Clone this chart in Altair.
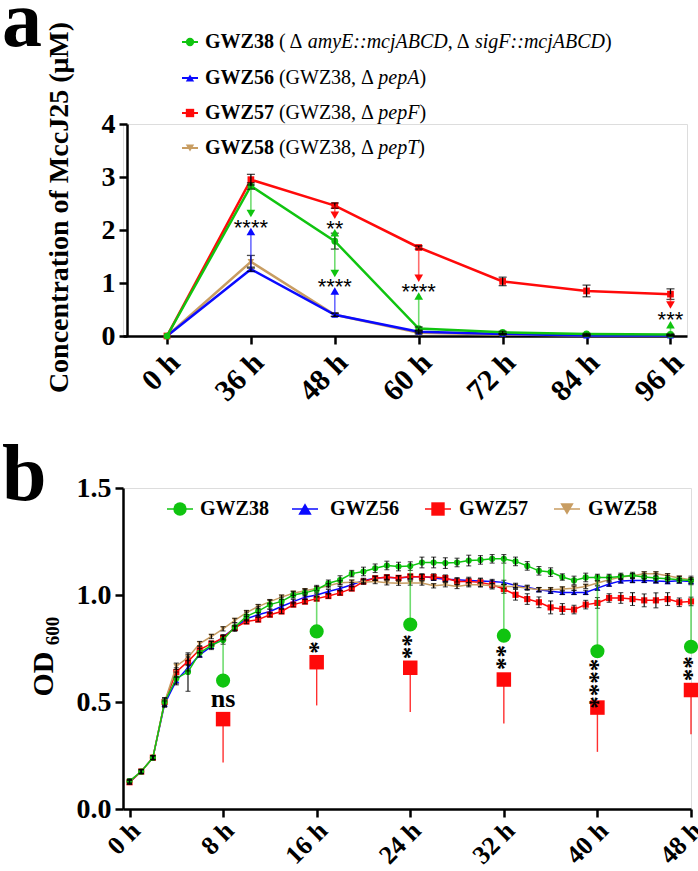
import json
import altair as alt
import pandas as pd

# ---------------------------------------------------------------- data
strains = ["GWZ38", "GWZ56", "GWZ57", "GWZ58"]

# (a) MccJ25 titre (uM) over the fermentation
conc_times = ["0 h", "36 h", "48 h", "60 h", "72 h", "84 h", "96 h"]
conc_gwz38 = [0.0, 2.83, 1.79, 0.14, 0.07, 0.04, 0.03]
conc_gwz56 = [0.0, 1.26, 0.40, 0.08, 0.04, 0.01, 0.01]
conc_gwz57 = [0.0, 2.95, 2.46, 1.67, 1.03, 0.85, 0.79]
conc_gwz58 = [0.0, 1.40, 0.40, 0.06, 0.03, 0.01, 0.01]
conc_sd_gwz38 = [0.0, 0.06, 0.15, 0.03, 0.02, 0.01, 0.01]
conc_sd_gwz56 = [0.0, 0.04, 0.03, 0.02, 0.01, 0.01, 0.01]
conc_sd_gwz57 = [0.0, 0.10, 0.05, 0.03, 0.08, 0.11, 0.10]
conc_sd_gwz58 = [0.0, 0.12, 0.03, 0.02, 0.01, 0.01, 0.01]

# significance arrows in (a): arrow leaves the strain's mean and ends at the head
arrow_time = ["36 h", "36 h", "48 h", "48 h", "48 h", "48 h", "60 h", "60 h", "96 h", "96 h"]
arrow_strain = ["GWZ38", "GWZ56", "GWZ57", "GWZ38", "GWZ38", "GWZ56", "GWZ57", "GWZ38", "GWZ57", "GWZ38"]
arrow_head = [2.31, 1.97, 2.28, 1.95, 1.18, 0.85, 1.09, 0.755, 0.585, 0.21]
star_time = ["36 h", "48 h", "48 h", "60 h", "96 h"]
star_text = ["****", "**", "****", "****", "***"]
star_value = [2.14, 2.11, 1.015, 0.92, 0.39]

# (b) growth curves, OD600 sampled every hour
od_hours = list(range(0, 49))
od_gwz38 = [0.13, 0.175, 0.24, 0.50, 0.61, 0.64, 0.73, 0.765, 0.79, 0.85,
            0.90, 0.925, 0.955, 0.97, 1.00, 1.01, 1.025, 1.055, 1.07, 1.10,
            1.11, 1.125, 1.138, 1.133, 1.135, 1.152, 1.152, 1.149, 1.152, 1.161,
            1.164, 1.169, 1.169, 1.157, 1.136, 1.113, 1.107, 1.084, 1.068, 1.082,
            1.082, 1.082, 1.087, 1.091, 1.084, 1.079, 1.076, 1.071, 1.068]
od_gwz56 = [0.125, 0.175, 0.24, 0.49, 0.60, 0.66, 0.72, 0.76, 0.805, 0.845,
            0.889, 0.908, 0.923, 0.946, 0.969, 0.99, 1.00, 1.016, 1.03, 1.048,
            1.068, 1.078, 1.083, 1.080, 1.084, 1.087, 1.079, 1.074, 1.071, 1.068,
            1.066, 1.063, 1.059, 1.045, 1.036, 1.025, 1.017, 1.012, 1.012, 1.012,
            1.032, 1.051, 1.066, 1.068, 1.068, 1.066, 1.063, 1.066, 1.063]
od_gwz57 = [0.125, 0.175, 0.24, 0.50, 0.64, 0.69, 0.745, 0.773, 0.80, 0.846,
            0.876, 0.885, 0.908, 0.923, 0.955, 0.969, 0.983, 0.995, 1.01, 1.03,
            1.063, 1.078, 1.083, 1.080, 1.087, 1.084, 1.084, 1.079, 1.063, 1.063,
            1.059, 1.048, 1.028, 1.001, 0.981, 0.966, 0.942, 0.935, 0.932, 0.955,
            0.963, 0.986, 0.986, 0.981, 0.975, 0.975, 0.981, 0.966, 0.970]
od_gwz58 = [0.13, 0.175, 0.24, 0.50, 0.667, 0.708, 0.773, 0.806, 0.842, 0.881,
            0.918, 0.946, 0.969, 0.99, 1.008, 1.02, 1.03, 1.043, 1.057, 1.06,
            1.06, 1.063, 1.057, 1.055, 1.056, 1.056, 1.043, 1.048, 1.040, 1.048,
            1.048, 1.043, 1.040, 1.040, 1.032, 1.025, 1.025, 1.028, 1.032, 1.040,
            1.056, 1.071, 1.084, 1.090, 1.099, 1.099, 1.090, 1.079, 1.071]
od_sd_gwz38 = [0.01, 0.01, 0.01, 0.02, 0.03, 0.09, 0.02, 0.02, 0.02, 0.02,
               0.02, 0.02, 0.02, 0.02, 0.015, 0.015, 0.02, 0.015, 0.02, 0.015,
               0.02, 0.02, 0.02, 0.02, 0.02, 0.025, 0.025, 0.025, 0.02, 0.025,
               0.02, 0.02, 0.02, 0.02, 0.02, 0.02, 0.02, 0.015, 0.02, 0.02,
               0.015, 0.015, 0.015, 0.015, 0.015, 0.02, 0.015, 0.015, 0.02]
od_sd_gwz56 = [0.008, 0.008, 0.008, 0.015, 0.015, 0.015, 0.01, 0.01, 0.01, 0.01,
               0.01, 0.01, 0.01, 0.01, 0.01, 0.01, 0.01, 0.01, 0.01, 0.01,
               0.01, 0.01, 0.01, 0.01, 0.01, 0.01, 0.01, 0.01, 0.01, 0.01,
               0.01, 0.01, 0.01, 0.01, 0.01, 0.01, 0.01, 0.01, 0.01, 0.01,
               0.01, 0.01, 0.01, 0.01, 0.01, 0.01, 0.01, 0.01, 0.01]
od_sd_gwz57 = [0.01, 0.01, 0.01, 0.02, 0.02, 0.02, 0.015, 0.01, 0.01, 0.01,
               0.01, 0.01, 0.01, 0.01, 0.01, 0.01, 0.01, 0.01, 0.01, 0.01,
               0.01, 0.01, 0.01, 0.01, 0.01, 0.015, 0.015, 0.015, 0.015, 0.02,
               0.02, 0.02, 0.02, 0.025, 0.025, 0.025, 0.03, 0.025, 0.02, 0.02,
               0.025, 0.02, 0.025, 0.03, 0.03, 0.035, 0.03, 0.02, 0.02]
od_sd_gwz58 = [0.008, 0.008, 0.008, 0.015, 0.015, 0.015, 0.01, 0.01, 0.01, 0.01,
               0.01, 0.01, 0.01, 0.01, 0.01, 0.01, 0.01, 0.01, 0.01, 0.01,
               0.01, 0.01, 0.01, 0.01, 0.01, 0.01, 0.01, 0.01, 0.01, 0.01,
               0.01, 0.01, 0.01, 0.01, 0.01, 0.01, 0.01, 0.01, 0.01, 0.01,
               0.01, 0.01, 0.01, 0.01, 0.01, 0.01, 0.01, 0.01, 0.01]

# pairwise comparison GWZ38 vs GWZ57 in (b)
sig_hours = [8, 16, 24, 32, 40, 48]
sig_labels = ["ns", "*", "**", "**", "****", "**"]
sig_label_y = [0.515, 0.755, 0.758, 0.708, 0.585, 0.655]
sig_mark_gwz38 = [0.60, 0.83, 0.862, 0.81, 0.737, 0.758]
sig_mark_gwz57 = [0.42, 0.686, 0.66, 0.605, 0.474, 0.556]
sig_tail_gwz57 = [0.217, 0.484, 0.453, 0.40, 0.267, 0.349]

od_ticks = [0, 8, 16, 24, 32, 40, 48]
panel_letters = ["a", "b"]
legend_genotype = [
    [("( Δ ", "regular"), ("amyE::mcjABCD", "italic"), (", Δ ", "regular"),
     ("sigF::mcjABCD", "italic"), (")", "regular")],
    [("(GWZ38, Δ ", "regular"), ("pepA", "italic"), (")", "regular")],
    [("(GWZ38, Δ ", "regular"), ("pepF", "italic"), (")", "regular")],
    [("(GWZ38, Δ ", "regular"), ("pepT", "italic"), (")", "regular")],
]

# ---------------------------------------------------------------- style
SERIF = "Liberation Serif"
SANS = "Liberation Sans"
COLORS = ["#10c410", "#0a0aff", "#ff0a0a", "#c89d62"]
SHAPES = ["circle", "triangle-up", "square", "triangle-down"]
DRAW_ORDER = ["GWZ58", "GWZ56", "GWZ57", "GWZ38"]
color_scale = alt.Scale(domain=strains, range=COLORS)
shape_scale = alt.Scale(domain=strains, range=SHAPES)
COLOR = dict(zip(strains, COLORS))
SHAPE = dict(zip(strains, SHAPES))

AXIS_STYLE = dict(
    grid=False, domainColor="black", domainWidth=2.5, tickColor="black",
    tickWidth=2.5, tickSize=8, labelFont=SERIF, labelFontWeight="bold",
    labelColor="black", labelOverlap=False, labelFlush=False,
)

# Times-compatible advance widths (em) for laying out the mixed-style legend text
W_REG = {" ": .25, "(": .333, ")": .333, ",": .25, "Δ": .612, "G": .722, "W": .944,
         "Z": .611, "3": .5, "8": .5}
W_ITA = {"a": .5, "m": .722, "y": .444, "E": .611, ":": .333, "c": .444, "j": .278,
         "A": .611, "B": .611, "C": .667, "D": .722, "s": .389, "i": .278, "g": .5,
         "F": .611, "p": .5, "e": .444, "T": .556}
W_BLD = {"G": .778, "W": 1.0, "Z": .667, "3": .5, "5": .5, "6": .5, "7": .5, "8": .5, " ": .25}
WIDTHS = {"regular": W_REG, "italic": W_ITA, "bold": W_BLD}


def text_width(txt, style, size):
    table = WIDTHS[style]
    return sum(table.get(ch, 0.5) for ch in txt) * size


# ================================================================ panel (a)
AW, AH = 564, 212
a_vals = dict(zip(strains, [conc_gwz38, conc_gwz56, conc_gwz57, conc_gwz58]))
a_sd = dict(zip(strains, [conc_sd_gwz38, conc_sd_gwz56, conc_sd_gwz57, conc_sd_gwz58]))
rows = []
for s in DRAW_ORDER:
    for i, t in enumerate(conc_times):
        v, e = a_vals[s][i], a_sd[s][i]
        rows.append(dict(strain=s, time=t, idx=i, value=v, lo=v - e, hi=v + e, sd=e))
conc_df = pd.DataFrame(rows)

xa = alt.Scale(domain=[-0.524, 6.197], nice=False, zero=False)
ya = alt.Scale(domain=[0, 4], nice=False)
xa_axis = alt.Axis(
    values=list(range(len(conc_times))),
    labelExpr=f"{json.dumps(conc_times)}[datum.value]",
    title=None, labelAngle=315, labelAlign="right", labelBaseline="top",
    labelFontSize=30, labelPadding=3, labelOffset=-3, **AXIS_STYLE,
)
ya_axis = alt.Axis(
    values=[0, 1, 2, 3, 4], format="d", labelFontSize=28, labelPadding=4, offset=-4,
    title="Concentration of MccJ25 (μM)", titleFont=SERIF, titleFontSize=28,
    titleFontWeight="bold", titleColor="black", titleAngle=270, titleAlign="center",
    titleBaseline="alphabetic", titleX=-60, titleY=83, **AXIS_STYLE,
)


def XA(field="idx"):
    return alt.X(f"{field}:Q", scale=xa, axis=xa_axis)


def YA(field):
    return alt.Y(f"{field}:Q", scale=ya, axis=ya_axis)


base_a = alt.Chart(conc_df)
layers_a = []
for s in DRAW_ORDER:
    one = base_a.transform_filter(alt.datum.strain == s)
    layers_a.append(one.mark_line(strokeWidth=2.5, color=COLOR[s]).encode(x=XA(), y=YA("value")))
    layers_a.append(one.mark_point(filled=True, size=45, opacity=1, shape=SHAPE[s],
                                   color=COLOR[s]).encode(x=XA(), y=YA("value")))
err_a = base_a.transform_filter(alt.datum.sd > 0)
layers_a.append(err_a.mark_rule(color="black", strokeWidth=1.3).encode(
    x=XA(), y=YA("lo"), y2="hi:Q"))
for f in ["lo", "hi"]:
    layers_a.append(err_a.mark_tick(orient="horizontal", color="black", size=8,
                                    thickness=1.3).encode(x=XA(), y=YA(f)))

arr_rows = []
for t, s, h in zip(arrow_time, arrow_strain, arrow_head):
    i = conc_times.index(t)
    start = a_vals[s][i]
    arr_rows.append(dict(idx=i, strain=s, start=start, head=h,
                         dir="down" if h < start else "up"))
arrow_df = pd.DataFrame(arr_rows)
col_enc = alt.Color("strain:N", scale=color_scale, legend=None)
layers_a.append(alt.Chart(arrow_df).mark_rule(strokeWidth=1.6, opacity=0.6).encode(
    x=XA(), y=YA("start"), y2="head:Q", color=col_enc))
for d, shp in [("down", "triangle-down"), ("up", "triangle-up")]:
    layers_a.append(alt.Chart(arrow_df).transform_filter(alt.datum.dir == d).mark_point(
        shape=shp, filled=True, size=75, opacity=1).encode(x=XA(), y=YA("head"), color=col_enc))

star_df = pd.DataFrame(dict(idx=[conc_times.index(t) for t in star_time],
                            label=star_text, value=star_value))
layers_a.append(alt.Chart(star_df).mark_text(font=SANS, fontSize=22, color="black",
                                             dy=5).encode(x=XA(), y=YA("value"), text="label:N"))

# legend for (a): marker + strain name (bold) + genotype (mixed roman / italic)
leg_rows_y = [-82, -46, -11, 24]
leg_marker_x, leg_text_x, LSIZE = 67, 82, 20
seg_rows = []
for s, yy, geno in zip(strains, leg_rows_y, legend_genotype):
    x = leg_text_x
    for txt, style in [(s, "bold"), (" ", "bold")] + geno:
        lead = len(txt) - len(txt.lstrip())
        shown = txt.strip()
        if shown:
            seg_rows.append(dict(px=x + text_width(txt[:lead], style, LSIZE), py=yy,
                                 seg=shown, style=style))
        x += text_width(txt, style, LSIZE)
seg_df = pd.DataFrame(seg_rows)
for style, weight, fstyle in [("bold", "bold", "normal"), ("regular", "normal", "normal"),
                              ("italic", "normal", "italic")]:
    layers_a.append(alt.Chart(seg_df).transform_filter(alt.datum.style == style).mark_text(
        font=SERIF, fontSize=LSIZE, fontWeight=weight, fontStyle=fstyle, color="black",
        align="left", baseline="middle").encode(
        x=alt.X("px:Q", scale=None), y=alt.Y("py:Q", scale=None), text="seg:N"))
leg_a = pd.DataFrame(dict(strain=strains, px=[leg_marker_x] * 4, py=leg_rows_y,
                          x1=[leg_marker_x - 8] * 4, x2=[leg_marker_x + 8] * 4))
layers_a.append(alt.Chart(leg_a).mark_rule(strokeWidth=2).encode(
    x=alt.X("x1:Q", scale=None), x2="x2:Q", y=alt.Y("py:Q", scale=None), color=col_enc))
layers_a.append(alt.Chart(leg_a).mark_point(filled=True, size=70, opacity=1).encode(
    x=alt.X("px:Q", scale=None), y=alt.Y("py:Q", scale=None), color=col_enc,
    shape=alt.Shape("strain:N", scale=shape_scale, legend=None)))
layers_a.append(alt.Chart(pd.DataFrame(dict(t=[panel_letters[0]]))).mark_text(
    font=SERIF, fontSize=80, fontWeight="bold", color="black", align="left",
    baseline="alphabetic").encode(x=alt.value(-121), y=alt.value(-78), text="t:N"))

panel_a = alt.layer(*layers_a).properties(width=AW, height=AH)

# ================================================================ panel (b)
BW, BH = 568, 321
b_vals = dict(zip(strains, [od_gwz38, od_gwz56, od_gwz57, od_gwz58]))
b_sd = dict(zip(strains, [od_sd_gwz38, od_sd_gwz56, od_sd_gwz57, od_sd_gwz58]))
rows = []
for s in ["GWZ56", "GWZ57", "GWZ58", "GWZ38"]:
    for h, v, e in zip(od_hours, b_vals[s], b_sd[s]):
        rows.append(dict(strain=s, hour=h, value=v, lo=v - e, hi=v + e))
od_df = pd.DataFrame(rows)

xb = alt.Scale(domain=[-0.556, 48], nice=False, zero=False)
yb = alt.Scale(domain=[0, 1.5], nice=False)
xb_axis = alt.Axis(values=od_ticks, labelExpr="datum.value + ' h'", title=None,
                   labelAngle=315, labelAlign="right", labelBaseline="top",
                   labelFontSize=26, labelPadding=0, labelOffset=-3, **AXIS_STYLE)
yb_axis = alt.Axis(values=[0, 0.5, 1.0, 1.5], format=".1f", labelFontSize=28,
                   labelPadding=4, title=None, **AXIS_STYLE)


def XB(field="hour"):
    return alt.X(f"{field}:Q", scale=xb, axis=xb_axis)


def YB(field):
    return alt.Y(f"{field}:Q", scale=yb, axis=yb_axis)


base_b = alt.Chart(od_df)
layers_b = []
for s in ["GWZ56", "GWZ57", "GWZ58", "GWZ38"]:
    one = base_b.transform_filter(alt.datum.strain == s)
    layers_b.append(one.mark_line(strokeWidth=1.5, color=COLOR[s]).encode(x=XB(), y=YB("value")))
    layers_b.append(one.mark_point(filled=True, size=38, opacity=1, shape=SHAPE[s],
                                   color=COLOR[s]).encode(x=XB(), y=YB("value")))
layers_b.append(base_b.mark_rule(color="black", strokeWidth=1.1).encode(
    x=XB(), y=YB("lo"), y2="hi:Q"))
for f in ["lo", "hi"]:
    layers_b.append(base_b.mark_tick(orient="horizontal", color="black", size=5,
                                     thickness=1.1).encode(x=XB(), y=YB(f)))

sig_df = pd.DataFrame(dict(
    hour=sig_hours, label=sig_labels, ly=sig_label_y,
    top=[od_gwz38[h] for h in sig_hours],
    m38=sig_mark_gwz38, m57=sig_mark_gwz57, tail=sig_tail_gwz57,
))
sig = alt.Chart(sig_df)
layers_b += [
    sig.mark_rule(color=COLOR["GWZ38"], strokeWidth=1.6, opacity=0.6).encode(
        x=XB(), y=YB("top"), y2="m38:Q"),
    sig.mark_rule(color=COLOR["GWZ57"], strokeWidth=1.4, opacity=0.85).encode(
        x=XB(), y=YB("m57"), y2="tail:Q"),
    sig.mark_point(shape="circle", filled=True, size=200, opacity=1,
                   color=COLOR["GWZ38"]).encode(x=XB(), y=YB("m38")),
    sig.mark_point(shape="square", filled=True, size=210, opacity=1,
                   color=COLOR["GWZ57"]).encode(x=XB(), y=YB("m57")),
    sig.transform_filter(alt.datum.label == "ns").mark_text(
        font=SERIF, fontSize=26, fontWeight="bold", color="black").encode(
        x=XB(), y=YB("ly"), text="label:N"),
    sig.transform_filter(alt.datum.label != "ns").mark_text(
        font=SERIF, fontSize=25, fontWeight="bold", color="black", angle=90, dy=7).encode(
        x=XB(), y=YB("ly"), text="label:N"),
]

leg_b = pd.DataFrame(dict(strain=strains, px=[57, 182, 315, 444], tx=[77, 207, 336, 465]))
leg_b["py"] = 21
leg_b["x1"] = leg_b["px"] - 13
leg_b["x2"] = leg_b["px"] + 13
lb = alt.Chart(leg_b)
layers_b += [
    lb.mark_rule(strokeWidth=1.5).encode(x=alt.X("x1:Q", scale=None), x2="x2:Q",
                                         y=alt.Y("py:Q", scale=None), color=col_enc),
    lb.mark_point(filled=True, size=180, opacity=1).encode(
        x=alt.X("px:Q", scale=None), y=alt.Y("py:Q", scale=None), color=col_enc,
        shape=alt.Shape("strain:N", scale=shape_scale, legend=None)),
    lb.mark_text(font=SERIF, fontSize=20, fontWeight="bold", color="black", align="left",
                 baseline="middle").encode(x=alt.X("tx:Q", scale=None),
                                           y=alt.Y("py:Q", scale=None), text="strain:N"),
]

# y title "OD600" with subscript, drawn as two rotated runs
layers_b += [
    alt.Chart(pd.DataFrame(dict(t=["OD"]))).mark_text(
        font=SERIF, fontSize=30, fontWeight="bold", color="black", angle=270,
        align="center", baseline="alphabetic").encode(
        x=alt.value(-70), y=alt.value(186), text="t:N"),
    alt.Chart(pd.DataFrame(dict(t=["600"]))).mark_text(
        font=SERIF, fontSize=19, fontWeight="bold", color="black", angle=270,
        align="center", baseline="alphabetic").encode(
        x=alt.value(-64), y=alt.value(143), text="t:N"),
    alt.Chart(pd.DataFrame(dict(t=[panel_letters[1]]))).mark_text(
        font=SERIF, fontSize=80, fontWeight="bold", color="black", align="left",
        baseline="alphabetic").encode(x=alt.value(-121), y=alt.value(12), text="t:N"),
]

panel_b = alt.layer(*layers_b).properties(width=BW, height=BH)

chart = alt.vconcat(panel_a, panel_b, spacing=152, bounds="flush").properties(
    autosize=alt.AutoSizeParams(type="none"),
    padding={"left": 123, "top": 124, "right": 575, "bottom": 747},
).configure_view(stroke=None).configure(background="white")

chart.save("out.html", embed_options={"renderer": "svg", "actions": False})
